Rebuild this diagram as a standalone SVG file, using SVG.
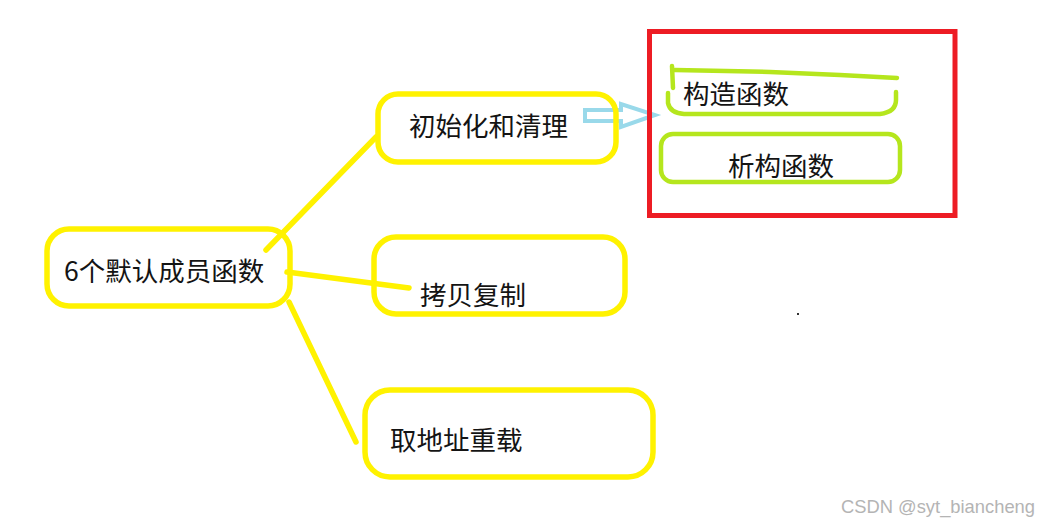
<svg xmlns="http://www.w3.org/2000/svg" width="1041" height="525" viewBox="0 0 1041 525">
<style>
.y{fill:none;stroke:#fff200;stroke-width:5.5;stroke-linecap:round;stroke-linejoin:round}
.g{fill:none;stroke:#b5e61d;stroke-width:4.5;stroke-linecap:round;stroke-linejoin:round}
.t{font-family:"Microsoft YaHei","Noto Sans CJK SC",sans-serif;font-size:26.5px;fill:#141414}
</style>
<rect width="1041" height="525" fill="#ffffff"/>
<g id="connectors">
<path class="y" d="M266,250 L376,137"/>
<path class="y" d="M287,272 Q340,279 409,288"/>
<path class="y" d="M289,302 L356,442"/>
<polygon points="585,110 621,110 621,104 655,115 621,127 621,121 585,121" fill="none" stroke="#99d9ea" stroke-width="4" stroke-linejoin="miter"/>
</g>
<g id="node-main">
<rect class="y" x="47" y="229" width="243" height="77" rx="22"/>
<text class="t" x="64" y="281">6个默认成员函数</text>
</g>
<g id="node-init">
<rect class="y" x="378" y="94" width="238" height="68" rx="20"/>
<text class="t" x="409" y="136">初始化和清理</text>
</g>
<g id="node-copy">
<rect class="y" x="374" y="237" width="251" height="77" rx="22"/>
<text class="t" x="420" y="305">拷贝复制</text>
</g>
<g id="node-addr">
<rect class="y" x="365" y="390" width="288" height="87" rx="25"/>
<text class="t" x="390" y="450">取地址重载</text>
</g>
<g id="group-red">
<rect x="649.5" y="31.5" width="305.5" height="184" fill="none" stroke="#ed1c24" stroke-width="5"/>
</g>
<g id="node-ctor">
<path class="g" d="M672,66 L673,88 M668,93 L668,103 Q670,113 684,114 L880,114 Q896,112 896,100 L896,92 M675,70 L770,72 L840,75 L897,78"/>
<text class="t" x="683" y="104">构造函数</text>
</g>
<g id="node-dtor">
<rect class="g" x="661" y="134" width="239" height="48" rx="12"/>
<text class="t" x="728" y="176">析构函数</text>
</g>
<rect x="797" y="313" width="2" height="2" fill="#333"/>
<text x="841" y="513" font-family="Liberation Sans, Arial, sans-serif" font-size="19" fill="#b4b4b4" textLength="194" lengthAdjust="spacingAndGlyphs">CSDN @syt_biancheng</text>
</svg>
